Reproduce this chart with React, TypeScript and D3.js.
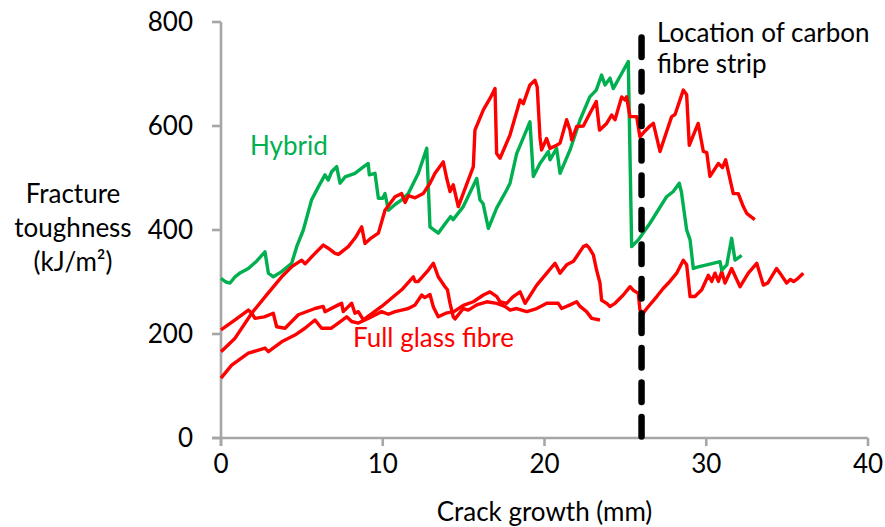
import React from "react";
import * as d3 from "d3";

type Pt = [number, number];

const xTicks = [0, 10, 20, 30, 40];
const yTicks = [0, 200, 400, 600, 800];
const xTitle = "Crack growth (mm)";
const yTitleLines = ["Fracture", "toughness", "(kJ/m²)"];
const carbonLabel = ["Location of carbon", "fibre strip"];
const carbonX = 26;
const carbonTop = 770;

const hybrid: Pt[] = [
  [0, 307], [0.3, 300], [0.56, 298], [0.87, 310], [1.2, 318], [1.69, 326], [2.2, 340], [2.72, 358],
  [2.93, 317], [3.24, 310], [3.75, 320], [4.37, 336], [4.68, 368], [5.09, 400], [5.6, 458], [6.02, 483],
  [6.43, 506], [6.63, 496], [6.84, 512], [7.15, 522], [7.36, 490], [7.67, 502], [8.28, 509], [8.7, 519],
  [9.1, 528], [9.17, 506], [9.52, 509], [9.73, 461], [10.0, 461], [10.14, 470], [10.35, 438], [10.8, 450],
  [11.17, 458], [11.58, 470], [12.2, 509], [12.72, 557], [12.92, 406], [13.43, 394], [13.95, 416],
  [14.2, 426], [14.35, 420], [14.98, 445], [15.81, 499], [16.01, 458], [16.2, 451], [16.53, 403],
  [17.04, 442], [17.66, 477], [17.87, 490], [18.28, 547], [19.1, 608], [19.31, 503], [19.72, 528],
  [20.24, 551], [20.34, 535], [20.75, 557], [20.96, 509], [21.58, 554], [22.2, 612], [22.8, 656],
  [23.2, 669], [23.53, 698], [23.74, 679], [24.05, 692], [24.25, 672], [24.77, 701], [25.18, 724],
  [25.39, 368], [25.8, 381], [26.52, 413], [27.55, 464], [27.96, 474], [28.33, 490], [28.46, 474],
  [28.79, 400], [29.0, 381], [29.2, 326], [29.5, 329], [30.03, 333], [30.85, 339], [30.96, 323],
  [31.27, 333], [31.57, 384], [31.78, 342], [32.19, 351],
];

const glassA: Pt[] = [
  [0, 166], [0.87, 192], [1.9, 240], [2.9, 278], [3.75, 310], [4.4, 330], [4.99, 342], [5.2, 335],
  [5.81, 355], [6.33, 371], [6.63, 365], [7.05, 355], [7.26, 353], [7.87, 368], [8.3, 385], [8.7, 406],
  [8.9, 374], [9.3, 385], [9.73, 394], [10.14, 438], [10.76, 464], [11.17, 470], [11.38, 453],
  [11.58, 466], [12.0, 462], [12.5, 470], [12.92, 490], [13.23, 509], [13.74, 531], [13.95, 500],
  [14.16, 474], [14.36, 487], [14.67, 445], [15.6, 522], [15.7, 592], [16.22, 631], [16.63, 653],
  [16.94, 672], [17.04, 547], [17.25, 538], [17.87, 583], [18.49, 650], [18.69, 643], [19.1, 679],
  [19.41, 688], [19.55, 675], [19.72, 579], [19.82, 554], [20.13, 576], [20.34, 557], [20.75, 563],
  [20.96, 567], [21.37, 612], [21.58, 592], [21.68, 573], [21.99, 599], [22.4, 600], [22.8, 624],
  [23.2, 647], [23.4, 592], [23.84, 605], [24.15, 621], [24.36, 612], [24.77, 656], [24.98, 650],
  [25.08, 656], [25.28, 618], [25.7, 618], [25.9, 579], [26.2, 590], [26.52, 600], [26.73, 605],
  [27.14, 551], [27.86, 618], [28.07, 622], [28.58, 669], [28.79, 660], [28.95, 563], [29.5, 605],
  [29.82, 551], [30.03, 549], [30.23, 503], [30.75, 528], [31.0, 520], [31.2, 535], [31.67, 470],
  [31.98, 470], [32.29, 445], [32.5, 432], [33.0, 420],
];

const glassB: Pt[] = [
  [0, 208], [0.87, 227], [1.69, 246], [1.9, 240], [2.1, 230], [2.68, 233], [3.23, 240], [3.44, 214],
  [3.96, 211], [4.78, 237], [5.81, 249], [6.32, 253], [6.43, 243], [7.25, 256], [7.46, 259],
  [7.56, 243], [8.08, 259], [8.28, 240], [8.49, 243], [8.8, 227], [9.93, 253], [11.17, 285],
  [11.89, 310], [12.0, 301], [12.2, 301], [12.82, 323], [13.13, 336], [13.43, 310], [13.85, 291],
  [14.0, 285], [14.16, 259], [14.36, 233], [14.47, 229], [14.98, 249], [15.29, 246], [15.81, 256],
  [16.43, 262], [17.05, 259], [17.56, 253], [17.87, 246], [18.28, 249], [18.9, 243], [19.52, 249],
  [20.14, 259], [20.85, 259], [21.06, 249], [21.58, 256], [21.99, 262], [22.2, 253], [22.6, 243],
  [22.92, 230], [23.43, 227],
];

const glassC: Pt[] = [
  [0, 115], [0.66, 140], [1.69, 163], [2.72, 173], [2.93, 166], [3.75, 185], [4.57, 198], [5.19, 211],
  [5.81, 227], [6.22, 211], [6.8, 211], [7.25, 221], [7.77, 233], [8.08, 224], [8.49, 221], [9.1, 230],
  [9.93, 243], [10.35, 238], [10.76, 243], [11.17, 246], [11.58, 249], [12.0, 256], [12.41, 275],
  [12.6, 270], [12.92, 276], [13.13, 252], [13.43, 233], [13.9, 240], [14.4, 243], [14.98, 255],
  [15.6, 262], [16.22, 275], [16.63, 281], [17.05, 272], [17.25, 262], [17.66, 259], [18.07, 272],
  [18.49, 281], [18.8, 259], [19.52, 294], [20.14, 317], [20.65, 336], [20.75, 330], [20.96, 317],
  [21.37, 333], [21.79, 340], [21.99, 349], [22.4, 368], [22.6, 371], [22.75, 366], [23.02, 352],
  [23.22, 323], [23.43, 298], [23.53, 265], [23.84, 259], [24.05, 253], [24.36, 259], [24.87, 275],
  [25.29, 291], [25.5, 284], [25.8, 278], [25.9, 246], [26.1, 240], [26.32, 249], [26.94, 272],
  [27.35, 288], [27.66, 298], [28.17, 317], [28.58, 342], [28.79, 333], [29.0, 272], [29.3, 272],
  [29.72, 285], [30.13, 313], [30.34, 301], [30.54, 317], [30.75, 301], [30.96, 320], [31.16, 298],
  [31.57, 326], [32.09, 291], [32.6, 317], [33.12, 336], [33.53, 294], [33.8, 298], [34.35, 326],
  [34.56, 317], [34.97, 298], [35.2, 305], [35.4, 301], [35.6, 305], [36.0, 317],
];

const W = 885;
const H = 527;
const FONT = "Lato, 'Open Sans', sans-serif";
const GREEN = "#00b050";
const RED = "#ff0000";
const AXIS = "#a6a6a6";

export default function App() {
  const x = d3.scaleLinear().domain([0, 40]).range([221, 868]);
  const y = d3.scaleLinear().domain([0, 800]).range([438, 22]);
  const line = d3.line<Pt>().x((d) => x(d[0])).y((d) => y(d[1]));

  return (
    <div style={{ position: "absolute", left: 0, top: 0 }}>
      <svg width={W} height={H} style={{ display: "block" }} fontFamily={FONT}>
        <rect width={W} height={H} fill="#fff" />
        {/* axes */}
        <line x1={x(0)} x2={x(0)} y1={y(800)} y2={y(0) + 8} stroke={AXIS} strokeWidth={2.6} />
        <line x1={x(0) - 9} x2={x(40)} y1={y(0)} y2={y(0)} stroke={AXIS} strokeWidth={2.6} />
        {yTicks.map((t) => (
          <g key={"y" + t}>
            <line x1={x(0) - 9} x2={x(0)} y1={y(t)} y2={y(t)} stroke={AXIS} strokeWidth={2.6} />
            <text x={193} y={y(t)} dy="0.36em" textAnchor="end" fontSize={26} fill="#000">
              {t}
            </text>
          </g>
        ))}
        {xTicks.map((t) => (
          <g key={"x" + t}>
            <line x1={x(t)} x2={x(t)} y1={y(0)} y2={y(0) + 8} stroke={AXIS} strokeWidth={2.6} />
            <text x={x(t)} y={473} textAnchor="middle" fontSize={26} fill="#000">
              {t}
            </text>
          </g>
        ))}
        <text x={(x(0) + x(40)) / 2} y={521} textAnchor="middle" fontSize={26} fill="#000">
          {xTitle}
        </text>
        {yTitleLines.map((s, i) => (
          <text key={s} x={73} y={203 + i * 34} textAnchor="middle" fontSize={26} fill="#000">
            {s}
          </text>
        ))}

        {/* series */}
        <path d={line(glassC) || ""} fill="none" stroke={RED} strokeWidth={3.4} strokeLinejoin="round" />
        <path d={line(glassB) || ""} fill="none" stroke={RED} strokeWidth={3.4} strokeLinejoin="round" />
        <path d={line(hybrid) || ""} fill="none" stroke={GREEN} strokeWidth={3.4} strokeLinejoin="round" />
        <path d={line(glassA) || ""} fill="none" stroke={RED} strokeWidth={3.4} strokeLinejoin="round" />

        {/* carbon strip marker */}
        <line
          x1={x(carbonX)}
          x2={x(carbonX)}
          y1={y(carbonTop)}
          y2={y(0)}
          stroke="#000"
          strokeWidth={6.5}
          strokeDasharray="19.5 15"
          strokeLinecap="round"
        />

        {/* labels */}
        <text x={250} y={155} fontSize={26} fill={GREEN}>Hybrid</text>
        <text x={353} y={347} fontSize={26} fill={RED}>Full glass fibre</text>
        {carbonLabel.map((s, i) => (
          <text key={s} x={657} y={42 + i * 31} fontSize={26} fill="#000">
            {s}
          </text>
        ))}
      </svg>
    </div>
  );
}
